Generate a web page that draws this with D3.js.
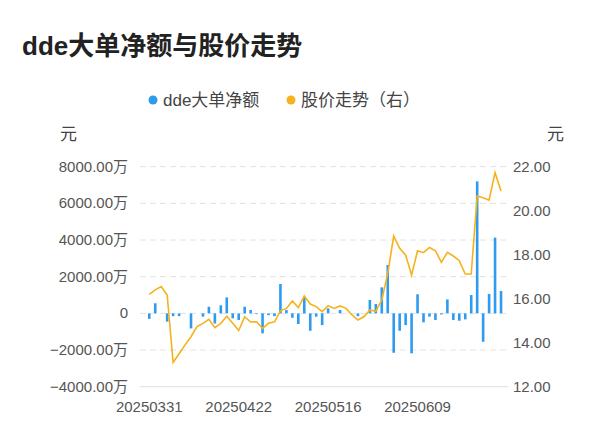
<!DOCTYPE html>
<html><head><meta charset="utf-8">
<script src="https://cdn.jsdelivr.net/npm/d3@7"></script>
<style>body{margin:0;background:#fff;font-family:"Liberation Sans","Noto Sans CJK SC",sans-serif}</style>
</head><body><svg id="c" width="600" height="446"></svg>
<script>
var dates = ["20250331","20250401","20250402","20250403","20250407","20250408","20250409","20250410","20250411","20250414",
  "20250415","20250416","20250417","20250418","20250421","20250422","20250423","20250424","20250425","20250428",
  "20250429","20250430","20250506","20250507","20250508","20250509","20250512","20250513","20250514","20250515",
  "20250516","20250519","20250520","20250521","20250522","20250523","20250526","20250527","20250528","20250529",
  "20250530","20250603","20250604","20250605","20250606","20250609","20250610","20250611","20250612","20250613",
  "20250616","20250617","20250618","20250619","20250620","20250623","20250624","20250625","20250626","20250627"];
var dde = [-300,550,0,-450,-150,-150,0,-820,0,-180,
  360,-550,440,870,-270,-360,360,180,-40,-1090,
  -100,-150,1600,180,-240,-580,910,-950,-180,-640,
  270,0,180,0,0,-150,0,730,510,1420,
  2640,-2150,-950,-640,-2180,1040,-490,-180,-360,-60,
  760,-360,-400,-330,1000,7200,-1550,1060,4130,1220];
var price = [16.2,16.4,16.55,16.17,13.1,13.5,13.9,14.27,14.73,14.88,
  15.06,14.68,14.88,15.2,14.88,14.55,15.18,14.94,14.95,14.65,
  14.88,14.95,15.45,15.56,15.9,15.6,16.12,15.76,15.64,15.41,
  15.68,15.56,15.67,15.56,15.26,15.03,15.18,15.48,15.44,15.94,
  17.15,18.85,18.29,17.98,17.08,18.18,18.09,18.33,18.18,17.65,
  18.11,17.94,17.73,17.12,17.12,20.67,20.59,20.48,21.73,20.9];
var leftTicks = [-4000,-2000,0,2000,4000,6000,8000];
var rightTicks = [12,14,16,18,20,22];
var labelIdx = [0,15,30,45];

var svg = d3.select("#c");
var plotTop = 166.7, plotBottom = 386.7;
var x = d3.scaleBand().domain(d3.range(dates.length)).range([146.3,504]);
var yL = d3.scaleLinear().domain([-4000,8000]).range([plotBottom,plotTop]);
var yR = d3.scaleLinear().domain([12,22]).range([plotBottom,plotTop]);

svg.append("text").attr("x",22).attr("y",55).attr("font-size",26).attr("font-weight","bold")
  .attr("fill","#222").text("dde大单净额与股价走势");

// legend
var lg = svg.append("g").attr("font-size",17).attr("fill","#444");
lg.append("circle").attr("cx",153).attr("cy",100).attr("r",4.5).attr("fill","#2f9bef");
lg.append("text").attr("x",163).attr("y",106).attr("fill","#444").text("dde大单净额");
lg.append("circle").attr("cx",291).attr("cy",100).attr("r",4.5).attr("fill","#f5b21a");
lg.append("text").attr("x",301).attr("y",106).attr("fill","#444").text("股价走势（右）");

svg.append("text").attr("x",60).attr("y",140).attr("font-size",17).attr("fill","#444").text("元");
svg.append("text").attr("x",547).attr("y",140).attr("font-size",17).attr("fill","#444").text("元");

svg.selectAll(".grid").data(leftTicks.filter(function(d){return d>-4000;})).enter().append("line")
  .attr("x1",140).attr("x2",508).attr("y1",function(d){return yL(d);}).attr("y2",function(d){return yL(d);})
  .attr("stroke","#e3e3e3").attr("stroke-dasharray","6,4");
svg.append("line").attr("x1",140).attr("x2",508).attr("y1",plotBottom).attr("y2",plotBottom).attr("stroke","#ddd");

svg.selectAll(".lt").data(leftTicks).enter().append("text")
  .attr("x",128).attr("y",function(d){return yL(d)+5;}).attr("text-anchor","end")
  .attr("font-size",15).attr("fill","#555")
  .text(function(d){return d===0?"0":d3.format(".2f")(d)+"万";});
svg.selectAll(".rt").data(rightTicks).enter().append("text")
  .attr("x",513).attr("y",function(d){return yR(d)+5;})
  .attr("font-size",15).attr("fill","#555").text(function(d){return d3.format(".2f")(d);});
svg.selectAll(".xt").data(labelIdx).enter().append("text")
  .attr("x",function(i){return x(i)+x.bandwidth()/2;}).attr("y",412).attr("text-anchor","middle")
  .attr("font-size",15).attr("fill","#555").text(function(i){return dates[i];});

var bw = 2.6;
svg.selectAll(".bar").data(dde).enter().append("rect")
  .attr("x",function(d,i){return x(i)+x.bandwidth()/2-bw/2;})
  .attr("y",function(d){return yL(Math.max(0,d));})
  .attr("width",bw)
  .attr("height",function(d){return Math.abs(yL(d)-yL(0));})
  .attr("fill","#2f9bef");

var line = d3.line().x(function(d,i){return x(i)+x.bandwidth()/2;}).y(function(d){return yR(d);});
svg.append("path").datum(price).attr("d",line).attr("fill","none")
  .attr("stroke","#f5b21a").attr("stroke-width",1.6);
</script></body></html>
